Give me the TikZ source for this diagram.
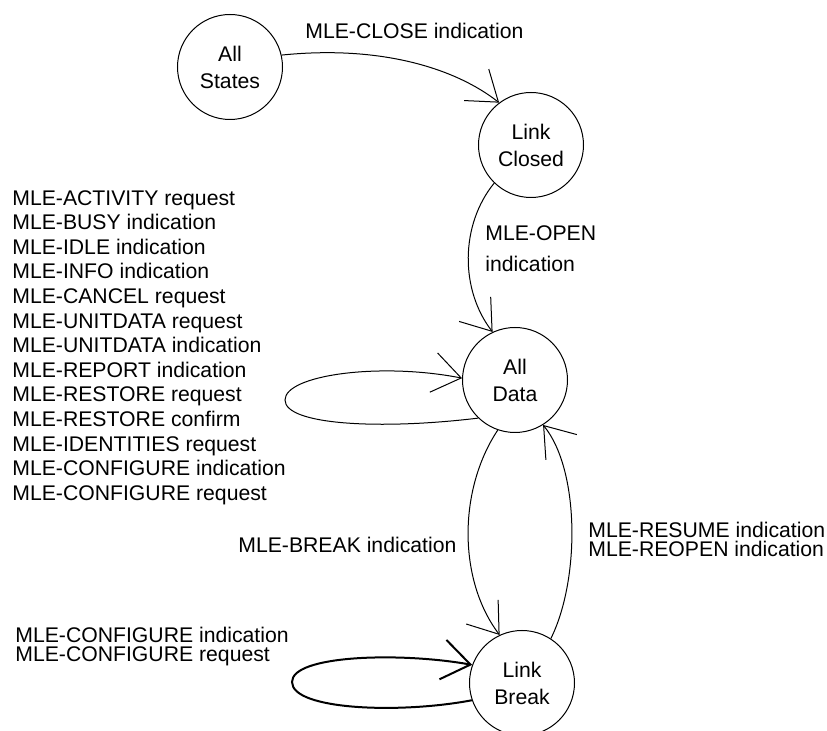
\documentclass[tikz,border=0pt]{standalone}
\usepackage{fontspec}
\setmainfont{Liberation Sans}
\usetikzlibrary{arrows.meta}
\tikzstyle{state}=[circle,draw,line width=0.5pt,minimum size=52.5pt,inner sep=0pt,align=center,font=\fontsize{10.6}{13.5}\selectfont]
\tikzstyle{lbl}=[inner sep=0pt,align=left,font=\fontsize{10.6}{12.3}\selectfont]
\tikzstyle{edge}=[line width=0.5pt,-{Straight Barb[length=14pt,width=20pt]}]

\begin{document}
\begin{tikzpicture}[x=0.5pt,y=-0.5pt]
%\draw[help lines] (0,0) grid (827,731);
\useasboundingbox (0,0) rectangle (827,731);
\node[state] (allstates) at (230,67) {All\\States};
\node[state] (closed) at (531,145) {Link\\Closed};
\node[state] (alldata) at (515,380) {All\\Data};
\node[state] (linkbreak) at (522,683) {Link\\Break};
\node[lbl,anchor=base west] (closelbl) at (305,39) {MLE-CLOSE indication};
\node[lbl,anchor=north west,font=\fontsize{10.6}{15.5}\selectfont] (openlbl) at (485,225) {MLE-OPEN\\indication};
\node[lbl,anchor=north west] (datalbl) at (12,190) {MLE-ACTIVITY request\\MLE-BUSY indication\\MLE-IDLE indication\\MLE-INFO indication\\MLE-CANCEL request\\MLE-UNITDATA request\\MLE-UNITDATA indication\\MLE-REPORT indication\\MLE-RESTORE request\\MLE-RESTORE confirm\\MLE-IDENTITIES request\\MLE-CONFIGURE indication\\MLE-CONFIGURE request};
\node[lbl,anchor=base west] (breaklbl) at (238,553) {MLE-BREAK indication};
\node[lbl,anchor=north west,font=\fontsize{10.6}{9.2}\selectfont] (resumelbl) at (588,522) {MLE-RESUME indication\\MLE-REOPEN indication};
\node[lbl,anchor=north west,font=\fontsize{10.6}{9.5}\selectfont] (conflbl) at (15,627) {MLE-CONFIGURE indication\\MLE-CONFIGURE request};
\draw[edge] (allstates.13) .. controls (380,45) and (455,68) .. (closed.127);
\draw[edge] (closed.226) .. controls (460,225) and (460,290) .. (alldata.115);
\draw[edge] (alldata.226) .. controls (380,430) and (285,425) .. (285,400) .. controls (285,375) and (380,362) .. (alldata.178);
\draw[edge] (alldata.251) .. controls (458,490) and (458,580) .. (linkbreak.115);
\draw[edge] (linkbreak.57) .. controls (580,580) and (580,470) .. (alldata.302);
\draw[edge,line width=1pt] (linkbreak.199) .. controls (400,714) and (292,710) .. (292,682) .. controls (292,655) and (400,652) .. (linkbreak.160);
\end{tikzpicture}
\end{document}
